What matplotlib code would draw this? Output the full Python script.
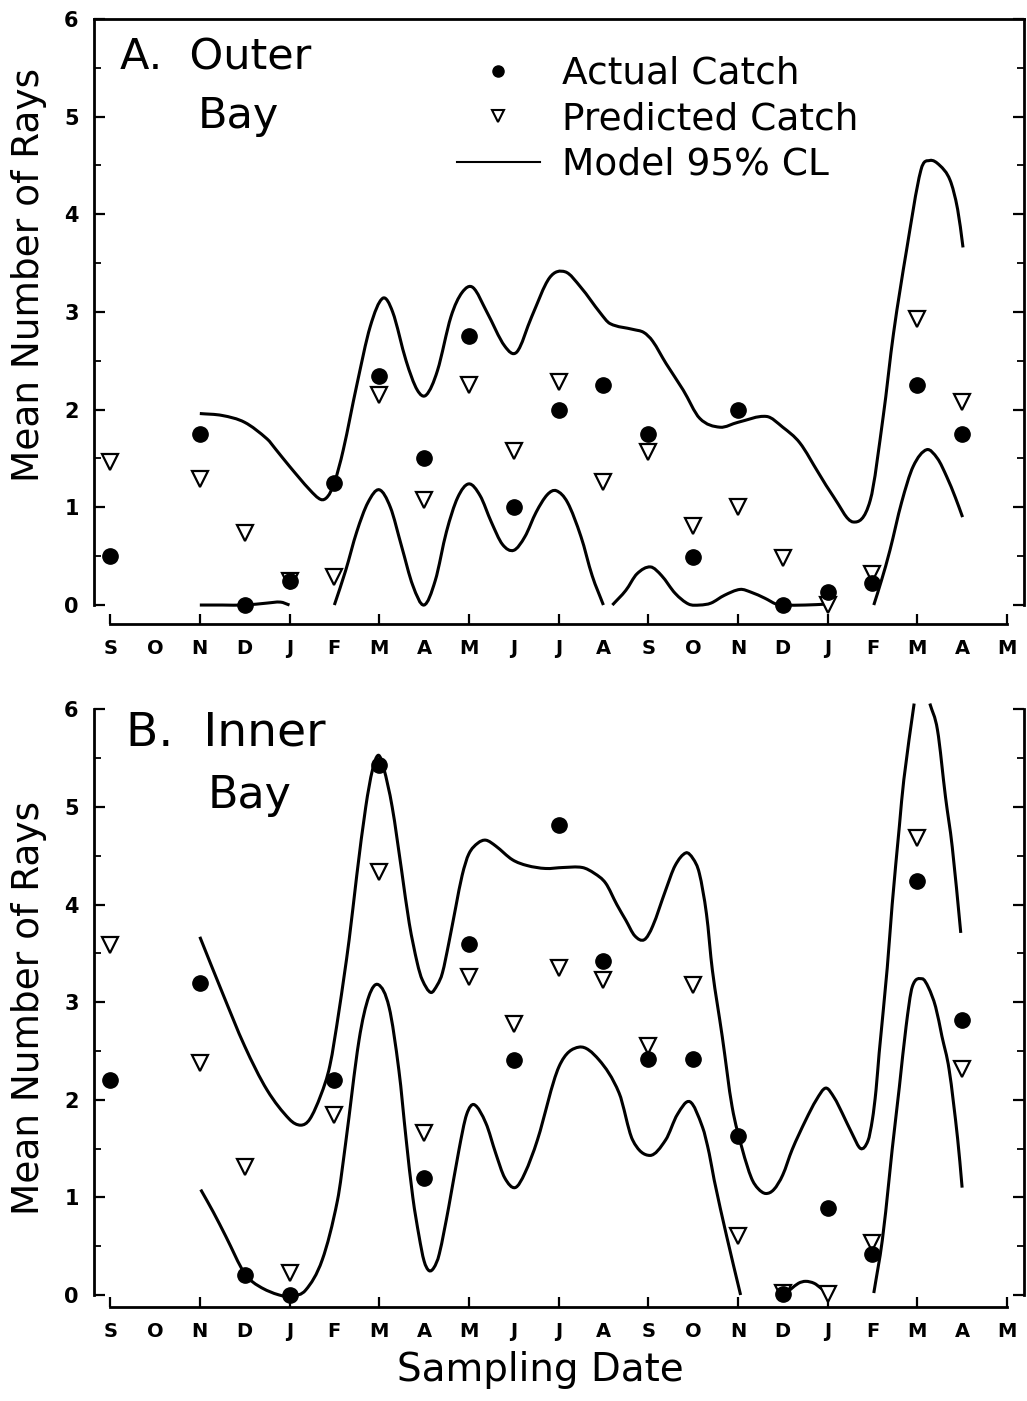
import matplotlib
matplotlib.use('Agg')
import matplotlib.pyplot as plt
from matplotlib.lines import Line2D
from matplotlib.path import Path
from matplotlib.patches import PathPatch

W, H = 1027, 1401

months = ['S', 'O', 'N', 'D', 'J', 'F', 'M', 'A', 'M', 'J', 'J',
          'A', 'S', 'O', 'N', 'D', 'J', 'F', 'M', 'A', 'M']

# sampling dates (index into months) that have data
obs_x = [0, 2, 3, 4, 5, 6, 7, 8, 9, 10, 11, 12, 13, 14, 15, 16, 17, 18, 19]

# ---- A. Outer Bay ----
outer_actual = [0.50, 1.75, 0.00, 0.25, 1.25, 2.34, 1.50, 2.75, 1.00, 2.00,
                2.25, 1.75, 0.49, 2.00, 0.00, 0.13, 0.23, 2.25, 1.75]
outer_pred = [1.46, 1.29, 0.74, 0.25, 0.29, 2.15, 1.07, 2.25, 1.58, 2.28,
              1.26, 1.57, 0.81, 1.00, 0.48, 0.00, 0.32, 2.93, 2.08]

outer_upper_x = [[2.0, 2.5, 3.0, 3.5, 3.7, 4.0, 4.45, 4.7, 4.85, 5.0, 5.2, 5.5,
                  5.8, 6.08, 6.3, 6.6, 6.85, 7.05, 7.3, 7.6, 7.85, 8.09, 8.4,
                  8.8, 9.07, 9.4, 9.8, 10.15, 10.5, 10.93, 11.15, 11.67, 11.9,
                  12.1, 12.4, 12.78, 13.15, 13.6, 14.0, 14.64, 15.0, 15.38,
                  15.8, 16.13, 16.57, 16.95, 17.24, 17.47, 17.76, 18.08,
                  18.28, 18.5, 18.73, 18.9, 19.02]]
outer_upper_y = [[1.96, 1.94, 1.87, 1.70, 1.59, 1.42, 1.18, 1.08, 1.11, 1.25,
                  1.59, 2.25, 2.85, 3.14, 3.00, 2.50, 2.20, 2.15, 2.40, 2.95,
                  3.20, 3.25, 3.00, 2.65, 2.59, 2.95, 3.35, 3.41, 3.25, 2.99,
                  2.88, 2.82, 2.79, 2.70, 2.47, 2.20, 1.91, 1.82, 1.87, 1.93,
                  1.82, 1.66, 1.35, 1.11, 0.85, 1.07, 1.93, 2.78, 3.63, 4.45,
                  4.55, 4.50, 4.35, 4.05, 3.66]]

outer_lower_x = [[2.0, 2.5, 3.0, 3.5, 3.8, 4.0],
                 [5.0, 5.25, 5.5, 5.75, 6.0, 6.25, 6.5, 6.75, 7.0, 7.25, 7.5,
                  7.75, 8.0, 8.25, 8.5, 8.75, 9.0, 9.25, 9.5, 9.75, 9.95,
                  10.2, 10.5, 10.75, 11.0],
                 [11.2, 11.5, 11.75, 12.05, 12.3, 12.6, 12.9, 13.15, 13.4,
                  13.7, 14.05, 14.3, 14.6, 14.85, 15.0, 15.5, 16.0],
                 [17.03, 17.2, 17.39, 17.65, 17.91, 18.21, 18.45, 18.66,
                  18.85, 19.01]]
outer_lower_y = [[0.00, 0.00, 0.00, 0.02, 0.03, 0.00],
                 [0.00, 0.35, 0.75, 1.05, 1.18, 1.00, 0.60, 0.20, 0.00, 0.25,
                  0.75, 1.10, 1.24, 1.12, 0.85, 0.62, 0.56, 0.70, 0.95, 1.13,
                  1.17, 1.05, 0.70, 0.30, 0.00],
                 [0.00, 0.15, 0.32, 0.39, 0.30, 0.12, 0.01, 0.00, 0.02, 0.10,
                  0.16, 0.13, 0.07, 0.01, 0.00, 0.00, 0.01],
                 [0.00, 0.25, 0.56, 1.05, 1.42, 1.59, 1.50, 1.31, 1.10, 0.90]]

# ---- B. Inner Bay ----
inner_actual = [2.20, 3.20, 0.20, 0.00, 2.20, 5.43, 1.20, 3.60, 2.41, 4.82,
                3.42, 2.42, 2.42, 1.63, 0.01, 0.89, 0.42, 4.24, 2.82]
inner_pred = [3.59, 2.38, 1.31, 0.23, 1.84, 4.33, 1.66, 3.26, 2.78, 3.35,
              3.23, 2.55, 3.18, 0.60, 0.02, 0.01, 0.53, 4.68, 2.32]

inner_upper_x = [[2.0, 2.5, 3.0, 3.5, 4.0, 4.25, 4.45, 4.7, 4.9, 5.1, 5.33,
                  5.5, 5.7, 5.85, 5.98, 6.1, 6.29, 6.5, 6.67, 6.85, 6.96,
                  7.15, 7.3, 7.41, 7.55, 7.71, 7.85, 8.0, 8.2, 8.38, 8.6,
                  8.97, 9.3, 9.71, 10.1, 10.53, 10.8, 11.05, 11.3, 11.5, 11.7,
                  11.91, 12.1, 12.39, 12.6, 12.84, 13.0, 13.14, 13.3, 13.43,
                  13.65, 13.87, 14.1, 14.3, 14.45, 14.62, 14.8, 15.0, 15.21,
                  15.51, 15.75, 15.96, 16.15, 16.33, 16.55, 16.74, 16.9, 17.0,
                  17.08, 17.15, 17.33, 17.44, 17.6, 17.7, 17.93],
                 [18.28, 18.45, 18.63, 18.78, 18.97]]
inner_upper_y = [[3.67, 3.10, 2.55, 2.10, 1.80, 1.74, 1.80, 2.05, 2.35, 2.90,
                  3.64, 4.30, 5.00, 5.38, 5.53, 5.40, 5.00, 4.35, 3.81, 3.40,
                  3.23, 3.10, 3.18, 3.30, 3.60, 3.98, 4.30, 4.52, 4.63, 4.66,
                  4.60, 4.46, 4.40, 4.37, 4.38, 4.38, 4.32, 4.22, 4.00, 3.84,
                  3.68, 3.64, 3.78, 4.15, 4.40, 4.53, 4.47, 4.32, 3.90, 3.33,
                  2.65, 1.93, 1.49, 1.20, 1.09, 1.04, 1.08, 1.23, 1.49, 1.79,
                  2.00, 2.12, 2.02, 1.86, 1.65, 1.50, 1.58, 1.80, 2.10, 2.48,
                  3.35, 4.00, 4.80, 5.28, 6.06],
                 [6.06, 5.79, 5.10, 4.59, 3.71]]

inner_lower_x = [[2.02, 2.3, 2.58, 3.0, 3.32, 3.77, 4.06, 4.36, 4.73, 5.07,
                  5.25, 5.55, 5.77, 5.98, 6.22, 6.44, 6.6, 6.75, 6.89, 7.0,
                  7.11, 7.22, 7.34, 7.55, 7.78, 7.95, 8.12, 8.38, 8.6, 8.8,
                  9.03, 9.25, 9.53, 10.01, 10.46, 10.9, 11.35, 11.65, 12.04,
                  12.39, 12.65, 12.93, 13.21, 13.36, 13.47, 13.75, 14.06],
                 [15.04, 15.18, 15.35, 15.51, 15.7, 15.85, 16.02],
                 [17.03, 17.22, 17.37, 17.44, 17.6, 17.75, 17.89, 18.11,
                  18.25, 18.41, 18.55, 18.71, 18.9, 19.0]]
inner_lower_y = [[1.08, 0.85, 0.60, 0.22, 0.09, 0.00, -0.01, 0.05, 0.36, 0.97,
                  1.55, 2.61, 3.06, 3.18, 2.95, 2.30, 1.60, 1.00, 0.60, 0.35,
                  0.25, 0.28, 0.42, 0.90, 1.49, 1.85, 1.95, 1.76, 1.45, 1.20,
                  1.10, 1.25, 1.59, 2.34, 2.54, 2.41, 2.07, 1.59, 1.43, 1.59,
                  1.85, 1.98, 1.72, 1.45, 1.18, 0.60, 0.00],
                 [0.01, 0.06, 0.12, 0.14, 0.12, 0.07, 0.01],
                 [0.02, 0.56, 1.18, 1.49, 2.13, 2.75, 3.16, 3.24, 3.15, 2.95,
                  2.65, 2.31, 1.60, 1.10]]


def px(x0, y_top, y_bot):
    return [x0 / W, 1 - y_bot / H, (1024 - x0) / W, (y_bot - y_top) / H]


def smooth_path(xs, ys):
    # cubic Hermite through the read points, drawn as Bezier segments
    n = len(xs)
    slopes = []
    for k in range(n):
        a = max(k - 1, 0)
        b = min(k + 1, n - 1)
        slopes.append((ys[b] - ys[a]) / (xs[b] - xs[a]))
    verts = [(xs[0], ys[0])]
    codes = [Path.MOVETO]
    for k in range(n - 1):
        h = (xs[k + 1] - xs[k]) / 3
        verts += [(xs[k] + h, ys[k] + slopes[k] * h),
                  (xs[k + 1] - h, ys[k + 1] - slopes[k + 1] * h),
                  (xs[k + 1], ys[k + 1])]
        codes += [Path.CURVE4] * 3
    return Path(verts, codes)


def style_axes(ax, ymin, top_frame):
    ax.set_xlim(-0.36, 20.38)
    ax.set_ylim(ymin, 6.0)
    for side in ['left', 'right']:
        ax.spines[side].set_bounds(0, 6)
        ax.spines[side].set_linewidth(2.0)
    ax.spines['bottom'].set_bounds(0, 20)
    ax.spines['bottom'].set_linewidth(2.0)
    ax.spines['top'].set_visible(top_frame)
    ax.spines['top'].set_linewidth(2.0)

    ax.set_yticks(range(7))
    ax.set_yticks([v + 0.5 for v in range(6)], minor=True)
    ax.tick_params(axis='y', which='major', direction='in', length=8,
                   width=1.6, left=True, right=True, labelsize=15, pad=11)
    ax.tick_params(axis='y', which='minor', direction='in', length=5,
                   width=1.3, left=True, right=True)

    ax.set_xticks(range(0, 21, 2))
    ax.set_xticklabels(months[::2])
    ax.set_xticks(range(1, 21, 2), minor=True)
    ax.set_xticklabels(months[1::2], minor=True)
    ax.tick_params(axis='x', which='major', direction='in', length=7,
                   width=1.6, top=False, labelsize=14, pad=11)
    ax.tick_params(axis='x', which='minor', length=0, top=False,
                   labelsize=14, pad=11)
    for lab in ax.get_xticklabels(which='both') + ax.get_yticklabels():
        lab.set_fontweight('bold')


def draw_panel(ax, actual, pred, up_x, up_y, lo_x, lo_y):
    for xs, ys in zip(up_x + lo_x, up_y + lo_y):
        ax.add_patch(PathPatch(smooth_path(xs, ys), fill=False,
                               edgecolor='black', lw=2.2, clip_on=False,
                               capstyle='butt', zorder=2))
    ax.plot(obs_x, pred, 'v', ms=11, mfc='white', mec='black', mew=1.6,
            clip_on=False, zorder=3)
    ax.plot(obs_x, actual, 'o', ms=11, color='black', clip_on=False,
            zorder=4)


fig = plt.figure(figsize=(W / 100, H / 100), dpi=100)

ax1 = fig.add_axes(px(94, 18.8, 623.6))
style_axes(ax1, -0.19, True)
draw_panel(ax1, outer_actual, outer_pred, outer_upper_x, outer_upper_y,
           outer_lower_x, outer_lower_y)

ax2 = fig.add_axes(px(94, 709.4, 1307))
style_axes(ax2, -0.123, False)
draw_panel(ax2, inner_actual, inner_pred, inner_upper_x, inner_upper_y,
           inner_lower_x, inner_lower_y)

for ax, yc in [(ax1, 0.576), (ax2, 0.50)]:
    ax.set_ylabel('Mean Number of Rays', fontsize=27)
    ax.yaxis.set_label_coords(-0.05, yc)

fig.text(540 / W, 1 - 1381 / H, 'Sampling Date', fontsize=28,
         ha='center', va='baseline')

fig.text(120 / W, 1 - 70 / H, 'A.  Outer', fontsize=31, va='baseline')
fig.text(198 / W, 1 - 128 / H, 'Bay', fontsize=31, va='baseline')
fig.text(126 / W, 1 - 745 / H, 'B.  Inner', fontsize=34, va='baseline')
fig.text(208 / W, 1 - 808 / H, 'Bay', fontsize=32, va='baseline')

handles = [Line2D([], [], marker='o', ls='none', color='black', ms=8),
           Line2D([], [], marker='v', ls='none', mfc='white', mec='black',
                  mew=1.5, ms=8),
           Line2D([], [], color='black', lw=1.5)]
ax1.legend(handles, ['Actual Catch', 'Predicted Catch', 'Model 95% CL'],
           loc='upper left', bbox_to_anchor=(457 / W, 1 - 56 / H),
           bbox_transform=fig.transFigure, frameon=False, fontsize=27,
           handlelength=2.2, handletextpad=0.6, labelspacing=0.25,
           borderpad=0, borderaxespad=0)

fig.savefig('out.png', dpi=100)
